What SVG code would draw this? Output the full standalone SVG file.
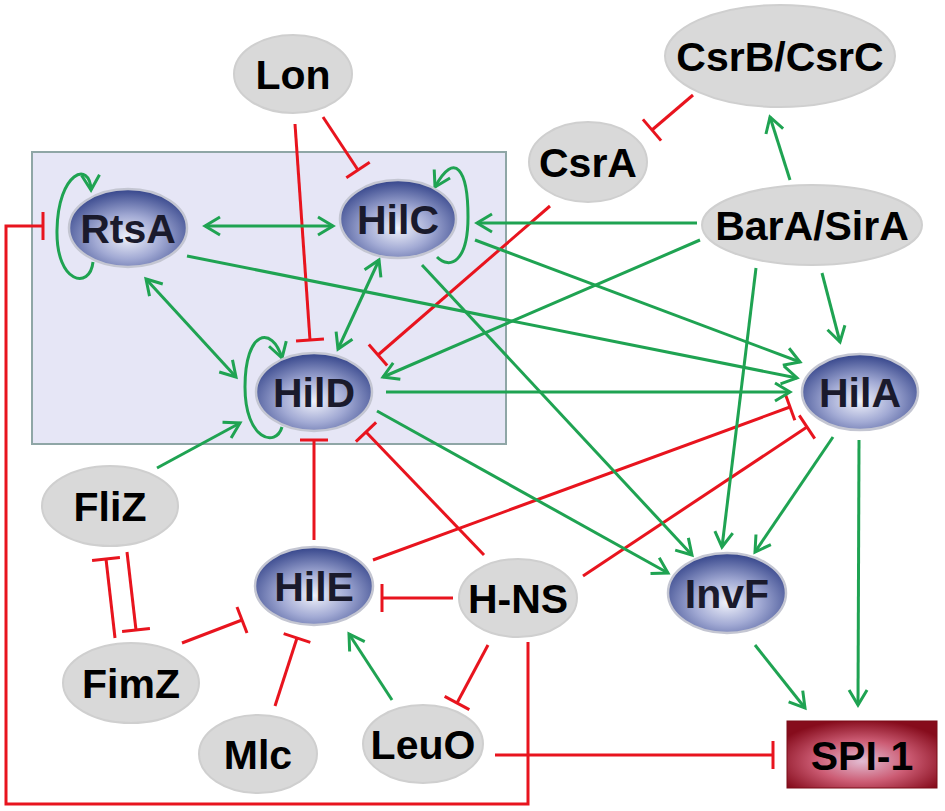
<svg xmlns="http://www.w3.org/2000/svg" width="945" height="811" viewBox="0 0 945 811">
<style>
.g{fill:none;stroke:#1fa352;stroke-width:3;marker-end:url(#ah)}
.gb{fill:none;stroke:#1fa352;stroke-width:3;marker-end:url(#ah);marker-start:url(#ah)}
.r{fill:none;stroke:#e8141e;stroke-width:3;marker-end:url(#tb)}
.grey{fill:#d9d9d9;stroke:#cfcfcf;stroke-width:2}
.blue{fill:url(#bg);stroke:#c4c6d2;stroke-width:2.5}
.t{font-family:"Liberation Sans",Arial,sans-serif;font-weight:bold;font-size:41px;text-anchor:middle;fill:#000}
.tb{fill:#1a1a2c}
</style>
<defs>
<radialGradient id="bg" cx="0.5" cy="0.62" r="0.62">
<stop offset="0" stop-color="#f0f2fb"/>
<stop offset="0.45" stop-color="#a2aad4"/>
<stop offset="1" stop-color="#34448a"/>
</radialGradient>
<radialGradient id="rg" cx="0.5" cy="0.6" r="0.62">
<stop offset="0" stop-color="#e2bcd2"/>
<stop offset="0.5" stop-color="#cc5c74"/>
<stop offset="1" stop-color="#860c1c"/>
</radialGradient>
<marker id="ah" viewBox="0 0 18 20" refX="16" refY="10" markerWidth="18" markerHeight="20" markerUnits="userSpaceOnUse" orient="auto-start-reverse" overflow="visible">
<path d="M1,1 L16,10 L1,19" fill="none" stroke="#1fa352" stroke-width="3"/>
</marker>
<marker id="tb" viewBox="0 0 4 28" refX="2" refY="14" markerWidth="4" markerHeight="28" markerUnits="userSpaceOnUse" orient="auto" overflow="visible">
<path d="M2,0 L2,28" stroke="#e8141e" stroke-width="3"/>
</marker>
</defs>
<rect width="945" height="811" fill="#fff"/>
<rect id="box" x="32" y="152" width="474" height="292" fill="#e6e6f6" stroke="#8fa6a6" stroke-width="2"/>
<g id="connectors">
<path class="r" d="M528,642 L528,804 L6,804 L6,226 L43,226"/>
<line class="r" x1="323" y1="117" x2="358" y2="170"/>
<line class="r" x1="295" y1="124" x2="310" y2="340"/>
<line class="r" x1="550" y1="206" x2="378" y2="355"/>
<line class="r" x1="693" y1="95" x2="652" y2="130"/>
<line class="r" x1="314" y1="540" x2="314" y2="440"/>
<line class="r" x1="484" y1="555" x2="366" y2="432"/>
<line class="r" x1="373" y1="560" x2="790" y2="407"/>
<line class="r" x1="583" y1="576" x2="807" y2="427"/>
<line class="r" x1="453" y1="598" x2="382" y2="598"/>
<line class="r" x1="488" y1="645" x2="457" y2="703"/>
<line class="r" x1="495" y1="755" x2="773" y2="755"/>
<line class="r" x1="182" y1="643" x2="242" y2="620"/>
<line class="r" x1="275" y1="706" x2="297" y2="638"/>
<line class="r" x1="115" y1="638" x2="106" y2="559"/>
<line class="r" x1="127" y1="552" x2="136" y2="630"/>
<line class="gb" x1="205" y1="226" x2="333" y2="226"/>
<line class="gb" x1="146" y1="279" x2="236" y2="377"/>
<line class="gb" x1="379" y1="260" x2="338" y2="349"/>
<line class="g" x1="187" y1="256" x2="797" y2="378"/>
<line class="g" x1="475" y1="240" x2="800" y2="362"/>
<line class="g" x1="386" y1="392" x2="790" y2="392"/>
<line class="g" x1="377" y1="411" x2="668" y2="573"/>
<line class="g" x1="422" y1="265" x2="692" y2="555"/>
<line class="g" x1="756" y1="268" x2="722" y2="547"/>
<line class="g" x1="833" y1="437" x2="755" y2="552"/>
<line class="g" x1="822" y1="273" x2="840" y2="342"/>
<line class="g" x1="790" y1="180" x2="770" y2="117"/>
<line class="g" x1="697" y1="223" x2="477" y2="223"/>
<line class="g" x1="700" y1="240" x2="383" y2="377"/>
<line class="g" x1="859" y1="440" x2="858" y2="705"/>
<line class="g" x1="755" y1="645" x2="805" y2="708"/>
<line class="g" x1="157" y1="468" x2="240" y2="423"/>
<line class="g" x1="392" y1="700" x2="349" y2="634"/>
<path class="g" d="M93,262 C90,290 56,284 57,230 C58,172 90,160 91,190"/>
<path class="g" d="M437,257 C450,270 468,262 468,217 C468,170 455,150 435,187"/>
<path class="g" d="M282,427 C276,448 245,440 245,387 C245,330 272,325 282,358"/>
</g>
<g id="Lon"><ellipse class="grey" cx="293" cy="74" rx="59" ry="39"/><text class="t" x="293" y="89">Lon</text></g>
<g id="CsrBCsrC"><ellipse class="grey" cx="780" cy="56" rx="115" ry="51"/><text class="t" x="780" y="71">CsrB/CsrC</text></g>
<g id="CsrA"><ellipse class="grey" cx="588" cy="162" rx="59" ry="40"/><text class="t" x="588" y="177">CsrA</text></g>
<g id="BarASirA"><ellipse class="grey" cx="812" cy="225" rx="110" ry="40"/><text class="t" x="812" y="240">BarA/SirA</text></g>
<g id="RtsA"><ellipse class="blue" cx="128" cy="228" rx="59" ry="39"/><text class="t tb" x="128" y="243">RtsA</text></g>
<g id="HilC"><ellipse class="blue" cx="398" cy="219" rx="58" ry="39"/><text class="t tb" x="398" y="234">HilC</text></g>
<g id="HilD"><ellipse class="blue" cx="314" cy="392" rx="58" ry="39"/><text class="t tb" x="314" y="407">HilD</text></g>
<g id="HilA"><ellipse class="blue" cx="860" cy="392" rx="58" ry="38"/><text class="t tb" x="860" y="407">HilA</text></g>
<g id="FliZ"><ellipse class="grey" cx="110" cy="506" rx="68" ry="40"/><text class="t" x="110" y="521">FliZ</text></g>
<g id="FimZ"><ellipse class="grey" cx="131" cy="683" rx="68" ry="40"/><text class="t" x="131" y="698">FimZ</text></g>
<g id="HilE"><ellipse class="blue" cx="314" cy="586" rx="59" ry="39"/><text class="t tb" x="314" y="601">HilE</text></g>
<g id="Mlc"><ellipse class="grey" cx="258" cy="754" rx="59" ry="39"/><text class="t" x="258" y="769">Mlc</text></g>
<g id="LeuO"><ellipse class="grey" cx="423" cy="744" rx="60" ry="39"/><text class="t" x="423" y="759">LeuO</text></g>
<g id="HNS"><ellipse class="grey" cx="518" cy="598" rx="59" ry="39"/><text class="t" x="518" y="613">H-NS</text></g>
<g id="InvF"><ellipse class="blue" cx="727" cy="593" rx="59" ry="40"/><text class="t tb" x="727" y="608">InvF</text></g>
<g id="SPI1"><rect x="787" y="721" width="150" height="67" fill="url(#rg)" stroke="#7a0d18" stroke-width="1"/><text class="t" x="862" y="770">SPI-1</text></g>
</svg>
